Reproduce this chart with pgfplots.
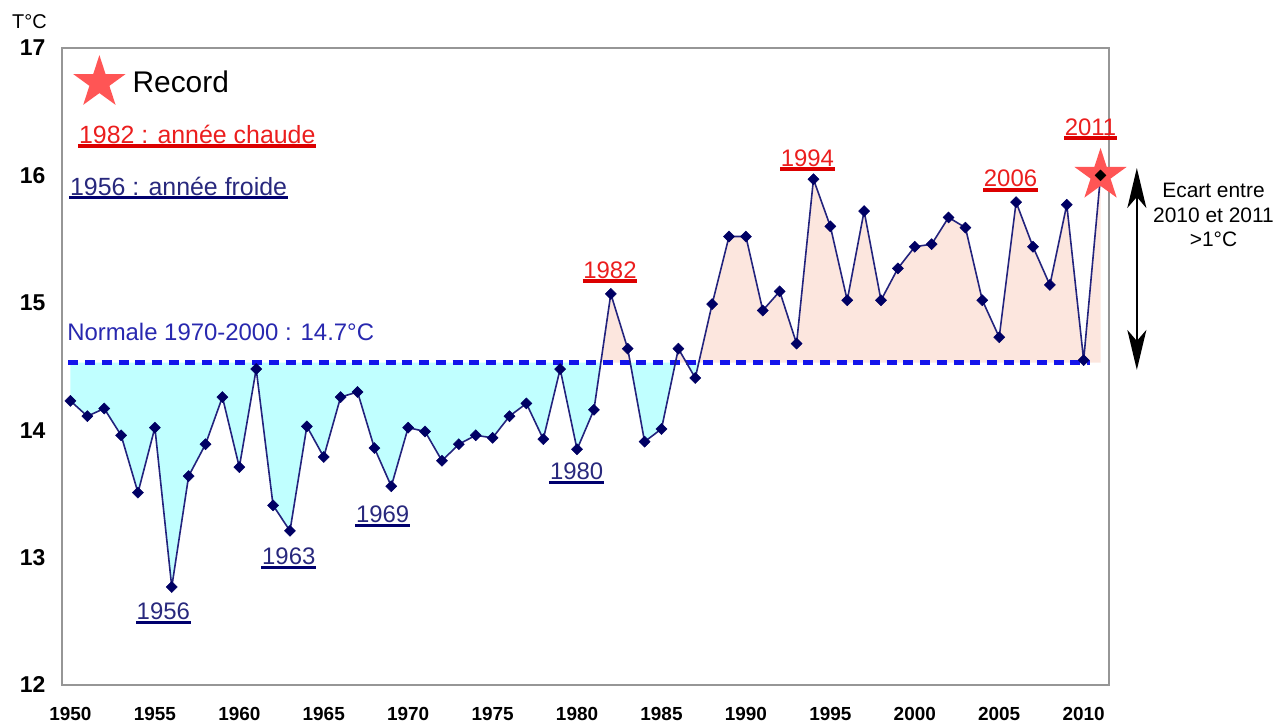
\documentclass[border=0pt]{standalone}
\usepackage{fontspec}
\setmainfont{Liberation Sans}
\usepackage{pgfplots}
\pgfplotsset{compat=1.18}
\usepgfplotslibrary{fillbetween}
\usepackage{pgfplotstable}
\usetikzlibrary{arrows.meta}

\definecolor{cyanfill}{RGB}{192,255,255}
\definecolor{peachfill}{RGB}{252,230,222}
\definecolor{normblue}{RGB}{20,20,235}
\definecolor{normtext}{RGB}{40,40,175}
\definecolor{navyline}{RGB}{35,35,125}
\definecolor{navymark}{RGB}{0,0,100}
\definecolor{coldtext}{RGB}{40,40,125}
\definecolor{coldline}{RGB}{0,0,110}
\definecolor{warmtext}{RGB}{235,30,30}
\definecolor{warmline}{RGB}{220,0,0}
\definecolor{starred}{RGB}{255,85,85}
\definecolor{axisgray}{RGB}{150,150,150}

\pgfdeclareplotmark{fstar}{%
 \pgfpathmoveto{\pgfpointpolar{90}{\pgfplotmarksize}}%
 \pgfpathlineto{\pgfpointpolar{126}{0.382\pgfplotmarksize}}%
 \pgfpathlineto{\pgfpointpolar{162}{\pgfplotmarksize}}%
 \pgfpathlineto{\pgfpointpolar{198}{0.382\pgfplotmarksize}}%
 \pgfpathlineto{\pgfpointpolar{234}{\pgfplotmarksize}}%
 \pgfpathlineto{\pgfpointpolar{270}{0.382\pgfplotmarksize}}%
 \pgfpathlineto{\pgfpointpolar{306}{\pgfplotmarksize}}%
 \pgfpathlineto{\pgfpointpolar{342}{0.382\pgfplotmarksize}}%
 \pgfpathlineto{\pgfpointpolar{18}{\pgfplotmarksize}}%
 \pgfpathlineto{\pgfpointpolar{54}{0.382\pgfplotmarksize}}%
 \pgfpathclose
 \pgfusepathqfill
}

\pgfplotstableread{
year T
1950 14.23
1951 14.11
1952 14.17
1953 13.96
1954 13.51
1955 14.02
1956 12.77
1957 13.64
1958 13.89
1959 14.26
1960 13.71
1961 14.48
1962 13.41
1963 13.21
1964 14.03
1965 13.79
1966 14.26
1967 14.30
1968 13.86
1969 13.56
1970 14.02
1971 13.99
1972 13.76
1973 13.89
1974 13.96
1975 13.94
1976 14.11
1977 14.21
1978 13.93
1979 14.48
1980 13.85
1981 14.16
1982 15.07
1983 14.64
1984 13.91
1985 14.01
1986 14.64
1987 14.41
1988 14.99
1989 15.52
1990 15.52
1991 14.94
1992 15.09
1993 14.68
1994 15.97
1995 15.60
1996 15.02
1997 15.72
1998 15.02
1999 15.27
2000 15.44
2001 15.46
2002 15.67
2003 15.59
2004 15.02
2005 14.73
2006 15.79
2007 15.44
2008 15.14
2009 15.77
2010 14.55
2011 16.00
}\tempdata

\tikzset{
 coldlab/.style={text=coldtext, inner xsep=0.5bp, inner ysep=2.5bp, font=\fontsize{24}{26}\selectfont,
   append after command={(\tikzlastnode.south west) edge[draw=coldline, line width=3bp] (\tikzlastnode.south east)}},
 warmlab/.style={text=warmtext, inner xsep=0.5bp, inner ysep=2.5bp, font=\fontsize{24}{26}\selectfont,
   append after command={(\tikzlastnode.south west) edge[draw=warmline, line width=3.5bp] (\tikzlastnode.south east)}},
}

\begin{document}
\begin{tikzpicture}
\begin{axis}[
 at={(0,0)}, anchor=south west,
 scale only axis, width=1047bp, height=637bp,
 xmin=1949.5, xmax=2011.5, ymin=12, ymax=17,
 xtick={1950,1955,...,2010}, ytick={12,13,...,17},
 major tick length=0pt,
 axis line style={draw=axisgray, line width=1.5bp},
 clip=false,
 /pgf/number format/assume math mode=true,
 /pgf/number format/1000 sep={},
 xticklabel style={font=\bfseries\fontsize{19}{20}\selectfont, yshift=-19bp},
 yticklabel style={font=\bfseries\fontsize{23}{24}\selectfont, xshift=-13bp},
 legend style={at={(0.0105,0.9498)}, anchor=west, draw=none, fill=none, inner sep=0pt,
   font=\fontsize{30}{32}\selectfont},
 legend cell align=left,
 legend image code/.code={\path (-26bp,0bp) (31bp,0bp); \draw[#1] plot coordinates {(0bp,0bp)};},
]
\addplot[draw=none, name path=curve, forget plot] table[x=year,y=T]{\tempdata};
\addplot[draw=none, name path=norm, forget plot] coordinates {(1950,14.53) (2011,14.53)};
\addplot[draw=none, forget plot] fill between[of=curve and norm, split,
  every even segment/.style={fill=cyanfill},
  every odd segment/.style={fill=peachfill}];

\addplot[normblue, line width=4.5bp, dash pattern=on 10bp off 6.7bp, forget plot] coordinates {(1949.88,14.53) (2010.36,14.53)};

\addplot[navyline, line width=1.6bp, mark=square*, mark size=3.9bp,
  mark options={rotate=45, fill=navymark, draw=navymark, line width=0.5bp}, forget plot] table[x=year,y=T]{\tempdata};

\addplot[only marks, mark=fstar, mark size=27.5bp, color=starred] coordinates {(2011,16.00)};
\addlegendentry{Record}

\addplot[only marks, mark=square*, mark size=3.9bp, mark options={rotate=45, fill=black, draw=black}, forget plot] coordinates {(2011,16.00)};

\node[warmlab, anchor=west, font=\fontsize{25}{27}\selectfont] at (axis cs:1950.47,16.325) {1982 : année chaude};
\node[coldlab, anchor=west, font=\fontsize{25}{27}\selectfont] at (axis cs:1949.94,15.917) {1956 : année froide};
\node[coldlab] at (axis cs:1955.50,12.58) {1956};
\node[coldlab] at (axis cs:1962.93,13.01) {1963};
\node[coldlab] at (axis cs:1968.49,13.34) {1969};
\node[coldlab] at (axis cs:1979.98,13.674) {1980};
\node[warmlab] at (axis cs:1981.95,15.257) {1982};
\node[warmlab] at (axis cs:1993.64,16.137) {1994};
\node[warmlab] at (axis cs:2005.67,15.974) {2006};
\node[warmlab] at (axis cs:2010.41,16.38) {2011};

\node[anchor=west, inner sep=0pt, text=normtext, font=\fontsize{24}{26}\selectfont] at (axis cs:1949.80,14.771) {Normale 1970-2000 : 14.7°C};

\draw[{Stealth[length=40bp,width=19bp,inset=11bp]}-{Stealth[length=40bp,width=19bp,inset=11bp]}, line width=2.2bp, black]
  (axis cs:2013.15,14.473) -- (axis cs:2013.15,16.058);

\node[align=center, font=\fontsize{21}{24.5}\selectfont, text=black] at (axis cs:2017.69,15.689) {Ecart entre\\2010 et 2011\\>1°C};

\node[font=\fontsize{20}{22}\selectfont] at (axis cs:1947.57,17.21) {T°C};
\end{axis}
\useasboundingbox (-62bp,-37bp) rectangle (1217bp,685bp);
\end{tikzpicture}
\end{document}
